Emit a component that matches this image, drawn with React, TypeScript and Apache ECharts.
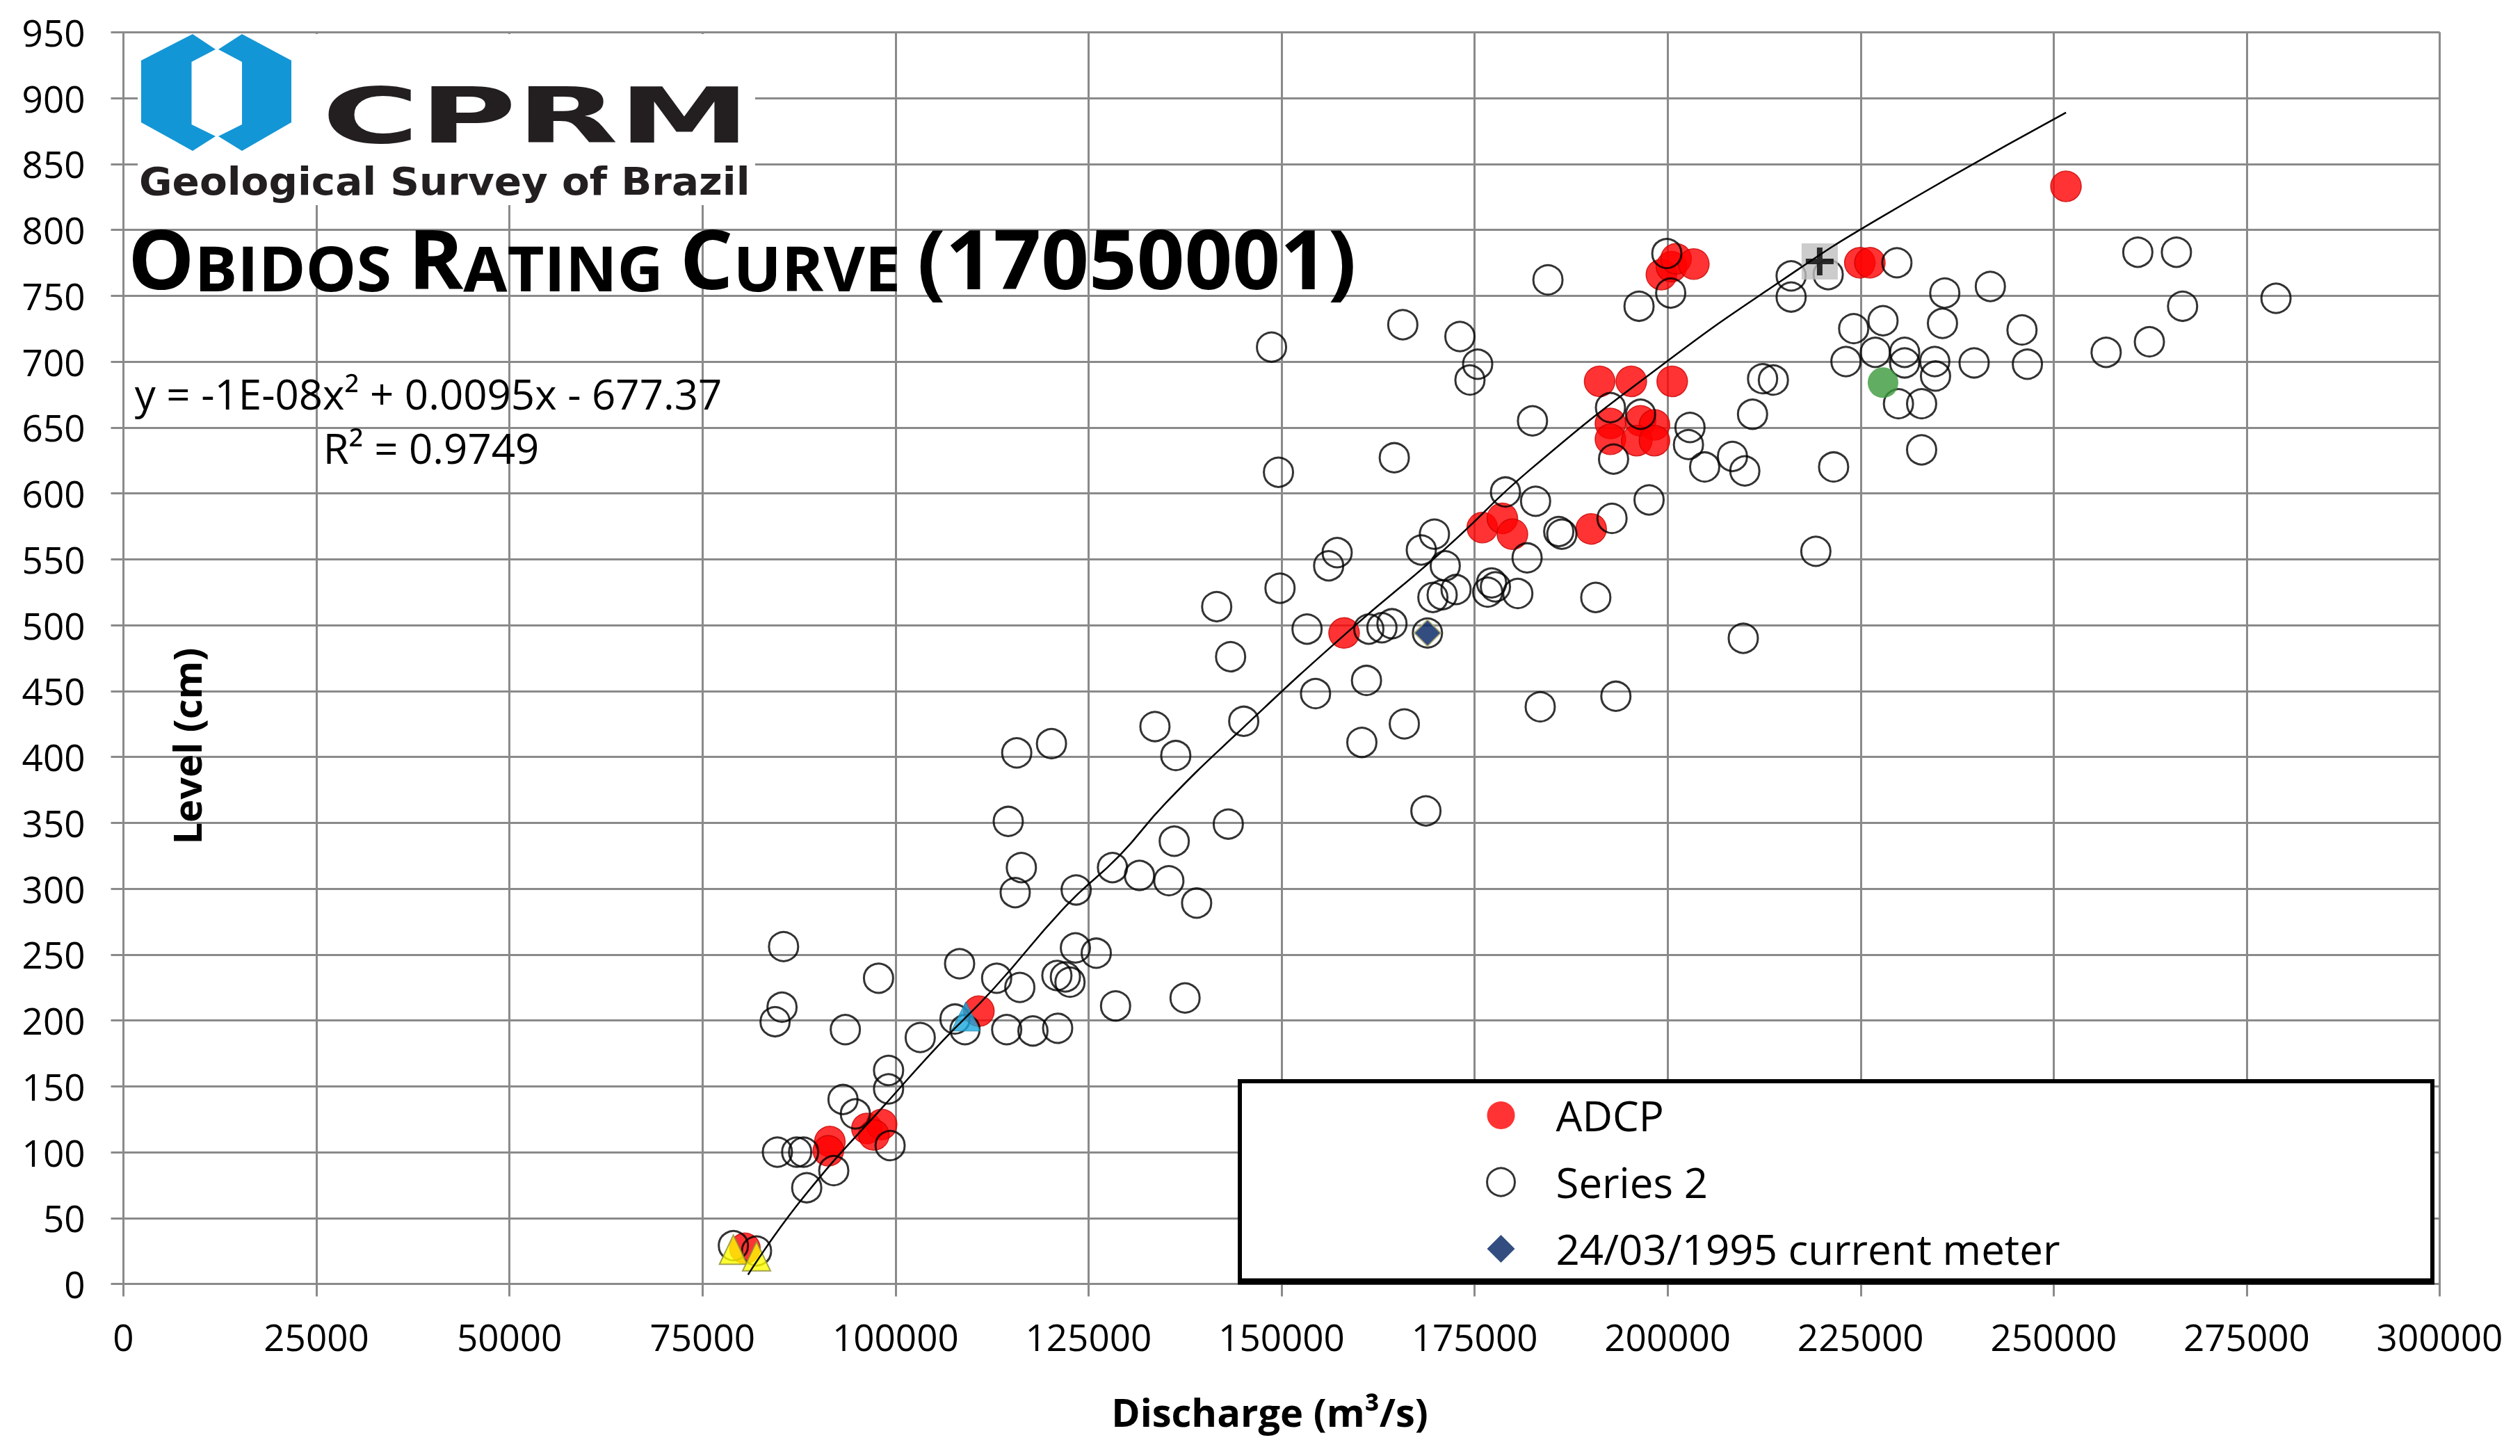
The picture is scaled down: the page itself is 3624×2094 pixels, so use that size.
import React, { useEffect, useRef } from "react";
import * as echarts from "echarts";

const FONT = '"Open Sans", "Noto Sans", sans-serif';

const xTickMin = 0;
const xTickMax = 300000;
const xTickStep = 25000;
const yTickMin = 0;
const yTickMax = 950;
const yTickStep = 50;

const legendNames = ["ADCP", "Series 2", "24/03/1995 current meter"];

const adcp: [number, number][] = [
  [80500, 27],
  [91500, 108], [91300, 101],
  [96300, 118], [98200, 121], [97200, 113],
  [110800, 207],
  [158100, 494],
  [176000, 574], [178600, 581], [179900, 569],
  [190100, 573],
  [191200, 685], [195300, 685], [200600, 685],
  [192600, 653], [196500, 655], [198300, 652],
  [192600, 641], [196000, 640], [198300, 640],
  [199200, 766], [200500, 772], [201100, 778], [203400, 774],
  [224900, 775], [226200, 775],
  [251600, 833],
];

const series2: [number, number][] = [
  [114600, 351], [116300, 316], [115500, 297], [123400, 299], [128100, 316], [131600, 310], [135400, 306], [136100, 336], [139000, 289],
  [85500, 256], [97800, 232], [108300, 243], [113100, 232], [116100, 225], [123300, 255], [126000, 251],
  [120900, 234], [122000, 233], [122600, 229], [128500, 211], [137500, 217],
  [85300, 210], [84400, 199], [93500, 193], [107700, 201], [109000, 193], [114400, 193], [117800, 192], [121000, 194], [103200, 187],
  [99100, 162], [99100, 148], [93200, 140], [94800, 129], [99300, 105], [84700, 100], [87200, 100], [88100, 100], [92000, 86], [88500, 73],
  [79000, 29], [82000, 25],
  [149600, 616], [164600, 627], [179000, 601], [169800, 569], [168100, 557], [157200, 555], [156100, 545], [171200, 545], [181800, 551],
  [149800, 528], [141600, 514], [169600, 521], [172600, 527], [170800, 523], [177200, 532], [177700, 529], [176700, 525], [180600, 524],
  [153300, 497], [161300, 497], [163000, 498], [164300, 501], [168900, 494],
  [143400, 476], [161000, 458], [154400, 448], [183500, 438], [133600, 423], [120200, 410], [115700, 403], [136300, 401], [145100, 427], [165900, 425], [160400, 411],
  [143100, 349], [168700, 359],
  [184500, 762], [199900, 782], [200400, 752], [196300, 742], [165700, 728], [173100, 719], [175400, 698], [174400, 686],
  [192600, 665], [196500, 660], [193000, 626], [182500, 655], [202900, 650], [202700, 637], [204800, 620], [208400, 628], [210000, 617], [211000, 660], [212300, 687], [213700, 686], [221500, 620],
  [182900, 594], [197600, 595], [185900, 571], [186300, 569], [192800, 581], [190700, 521], [219200, 556], [209800, 490], [193300, 446],
  [220800, 766], [216000, 765], [216000, 749], [224100, 725], [223100, 700],
  [229700, 775], [260900, 783], [265900, 783], [235900, 752], [241800, 757], [278800, 748], [266700, 742], [227900, 731], [235600, 729],
  [245900, 724], [262400, 715], [256800, 707], [226900, 707], [230700, 707], [230700, 699], [234600, 700], [234700, 689], [239700, 699],
  [246600, 698], [229900, 668], [232900, 668], [232900, 633],
  [148700, 711],
];

const currentMeter: [number, number][] = [[168900, 494]];
const yellowPoints: [number, number][] = [[79000, 26], [82000, 21]];
const cyanPoints: [number, number][] = [[109100, 203]];
const greenPoints: [number, number][] = [[227900, 684]];
const grayPoints: [number, number][] = [[219700, 776]];

const trendLine: [number, number][] = [
  [80900, 7], [88100, 66], [99700, 143], [106200, 185], [112700, 224], [122100, 287],
  [129000, 325], [135000, 365], [145000, 422], [158800, 496], [171200, 558], [182200, 618],
  [199200, 697], [214900, 762], [227200, 808], [251600, 889],
];

const titleText = "OBIDOS RATING CURVE (17050001)";
const equationText = "y = -1E-08x² + 0.0095x - 677.37";
const r2Text = "R² = 0.9749";
const xTitle = "Discharge (m³/s)";
const yTitle = "Level (cm)";

function measure(text: string, font: string): number {
  const c = document.createElement("canvas");
  const ctx = c.getContext("2d");
  if (!ctx) return text.length * 50;
  ctx.font = font;
  return ctx.measureText(text).width;
}

export default function App() {
  const ref = useRef<HTMLDivElement>(null);

  useEffect(() => {
    if (!ref.current) return;
    const chart = echarts.init(ref.current, undefined, { renderer: "svg" });

    const bigFont = `bold 118px ${FONT}`;
    const smallFont = `bold 90px ${FONT}`;
    const words = titleText.split(" ");
    let titleRich = "";
    let titleW = 0;
    words.forEach((w, i) => {
      const isLast = i === words.length - 1;
      if (w.startsWith("(")) {
        titleRich += `{b|${w}}`;
        titleW += measure(w, bigFont);
      } else {
        const rest = w.slice(1) + (isLast ? "" : " ");
        titleRich += `{b|${w[0]}}{s|${rest}}`;
        titleW += measure(w[0], bigFont) + measure(rest, smallFont);
      }
    });
    const titleScale = Math.max(0.85, Math.min(1.15, 1767 / titleW));

    const cprmFont = 'bold 110px "DejaVu Sans"';
    const cprmScale = 616 / measure("CPRM", cprmFont);
    const subFont = 'bold 55px "DejaVu Sans"';
    const subText = "Geological Survey of Brazil";
    const subScale = 879 / measure(subText, subFont);

    const logoBlue = "#1396D6";
    const leftHalf = [[277, 49], [203, 87], [203, 176], [277, 217], [310, 196], [275.5, 179], [275.5, 89], [310, 71]];
    const rightHalf = [[348, 49], [419, 87], [419, 176], [348, 217], [314, 196], [348, 179], [348, 89], [314, 71]];

    const option: any = {
      animation: false,
      backgroundColor: "#ffffff",
      grid: { left: 177.5, top: 46.25, right: 115.5, bottom: 247.5, containLabel: false },
      xAxis: {
        type: "value",
        min: xTickMin,
        max: xTickMax,
        interval: xTickStep,
        axisLine: { show: true, lineStyle: { color: "#8a8a8a", width: 3 } },
        axisTick: { show: true, length: 18, inside: false, lineStyle: { color: "#8a8a8a", width: 3 } },
        splitLine: { show: true, lineStyle: { color: "#8a8a8a", width: 3 } },
        axisLabel: {
          fontFamily: FONT, fontSize: 53, color: "#000", margin: 49,
          formatter: (v: number) => String(v),
        },
      },
      yAxis: {
        type: "value",
        min: yTickMin,
        max: yTickMax,
        interval: yTickStep,
        axisLine: { show: true, lineStyle: { color: "#8a8a8a", width: 3 } },
        axisTick: { show: true, length: 18, inside: false, lineStyle: { color: "#8a8a8a", width: 3 } },
        splitLine: { show: true, lineStyle: { color: "#8a8a8a", width: 3 } },
        axisLabel: {
          fontFamily: FONT, fontSize: 53, color: "#000", margin: 55,
          formatter: (v: number) => String(v),
        },
      },
      legend: {
        data: [
          { name: legendNames[0], icon: "circle", itemStyle: { color: "#FF0000", borderWidth: 0 } },
          { name: legendNames[1], icon: "circle", itemStyle: { color: "#FFFFFF", borderColor: "#000000", borderWidth: 3 } },
          { name: legendNames[2], icon: "diamond", itemStyle: { color: "#002060", borderWidth: 0 } },
        ],
        orient: "vertical",
        left: 2137,
        top: 1574,
        itemWidth: 40,
        itemHeight: 40,
        itemGap: 36,
        padding: 0,
        selectedMode: false,
        z: 20,
        textStyle: { fontFamily: FONT, fontSize: 60, color: "#000", lineHeight: 60, padding: [0, 0, 0, 54] },
      },
      graphic: [
        { type: "rect", z: 1, shape: { x: 198, y: 49, width: 888, height: 246 }, style: { fill: "#ffffff" } },
        { type: "polygon", z: 2, shape: { points: leftHalf }, style: { fill: logoBlue } },
        { type: "polygon", z: 2, shape: { points: rightHalf }, style: { fill: logoBlue } },
        {
          type: "text", z: 2, x: 463, y: 167, scaleX: cprmScale,
          style: { text: "CPRM", font: cprmFont, fill: "#231F20", align: "left", verticalAlign: "middle" },
        },
        {
          type: "text", z: 2, x: 200, y: 261, scaleX: subScale,
          style: { text: subText, font: subFont, fill: "#231F20", align: "left", verticalAlign: "middle" },
        },
        {
          type: "text", z: 6, x: 184, y: 311, scaleX: titleScale,
          style: {
            text: titleRich,
            align: "left",
            verticalAlign: "top",
            fill: "#000",
            rich: {
              b: { fontFamily: FONT, fontWeight: "bold", fontSize: 118, verticalAlign: "bottom", fill: "#000" },
              s: { fontFamily: FONT, fontWeight: "bold", fontSize: 90, verticalAlign: "bottom", fill: "#000" },
            },
          },
        },
        {
          type: "text", z: 6, x: 616, y: 566,
          style: { text: equationText, font: `60px ${FONT}`, fill: "#000", align: "center", verticalAlign: "middle" },
        },
        {
          type: "text", z: 6, x: 620, y: 644,
          style: { text: r2Text, font: `60px ${FONT}`, fill: "#000", align: "center", verticalAlign: "middle" },
        },
        {
          type: "text", z: 6, x: 268, y: 1073, rotation: Math.PI / 2,
          style: { text: yTitle, font: `bold 56px ${FONT}`, fill: "#000", align: "center", verticalAlign: "middle" },
        },
        {
          type: "text", z: 6, x: 1826, y: 2030,
          style: { text: xTitle, font: `bold 56px ${FONT}`, fill: "#000", align: "center", verticalAlign: "middle" },
        },
        {
          type: "rect", z: 15, shape: { x: 1783, y: 1555, width: 1715, height: 288 },
          style: { fill: "#ffffff", stroke: "#000000", lineWidth: 6 },
        },
        {
          type: "line", z: 15, shape: { x1: 1780, y1: 1843, x2: 3501, y2: 1843 },
          style: { stroke: "#000000", lineWidth: 9 },
        },
      ],
      series: [
        {
          name: legendNames[0], type: "scatter", data: adcp, symbol: "circle", symbolSize: 44, z: 2,
          itemStyle: { color: "#FF0000", borderColor: "#C80000", borderWidth: 1.5 },
        },
        {
          name: legendNames[1], type: "scatter", data: series2, symbol: "circle", symbolSize: 42, z: 3,
          itemStyle: { color: "rgba(255,255,255,0)", borderColor: "#000000", borderWidth: 3 },
        },
        {
          name: "Series 4", type: "scatter", data: yellowPoints, symbol: "triangle", symbolSize: [40, 42], z: 4,
          itemStyle: { color: "#FFFF00", borderColor: "#8C8C3C", borderWidth: 2 },
        },
        {
          name: "Series 5", type: "scatter", data: cyanPoints, symbol: "triangle", symbolSize: 42, z: 4,
          itemStyle: { color: "#1AA7DF", borderColor: "#1780A8", borderWidth: 1 },
        },
        {
          name: "Series 6", type: "scatter", data: greenPoints, symbol: "circle", symbolSize: 44, z: 4,
          itemStyle: { color: "#3A983A", borderWidth: 0 },
        },
        {
          name: "Series 7", type: "scatter", data: grayPoints, symbol: "rect", symbolSize: 52, z: 4,
          itemStyle: { color: "#BFBFBF", borderWidth: 0 },
        },
        {
          name: "Series 8", type: "scatter", data: grayPoints, symbol: "path://M4,0H6V4H10V6H6V10H4V6H0V4H4Z", symbolSize: 40, z: 5,
          itemStyle: { color: "#000000" },
        },
        {
          name: legendNames[2], type: "scatter", data: currentMeter, symbol: "diamond", symbolSize: 38, z: 5,
          itemStyle: { color: "#002060", borderColor: "#B5AE6A", borderWidth: 2 },
        },
        {
          name: "Trend", type: "line", data: trendLine, smooth: true, showSymbol: false, symbol: "none", z: 6,
          lineStyle: { color: "#000000", width: 2.5 },
        },
      ],
    };

    chart.setOption(option);
    return () => chart.dispose();
  }, []);

  return (
    <div
      ref={ref}
      style={{ position: "absolute", left: 0, top: 0, width: 3624, height: 2094, background: "#fff" }}
    />
  );
}
